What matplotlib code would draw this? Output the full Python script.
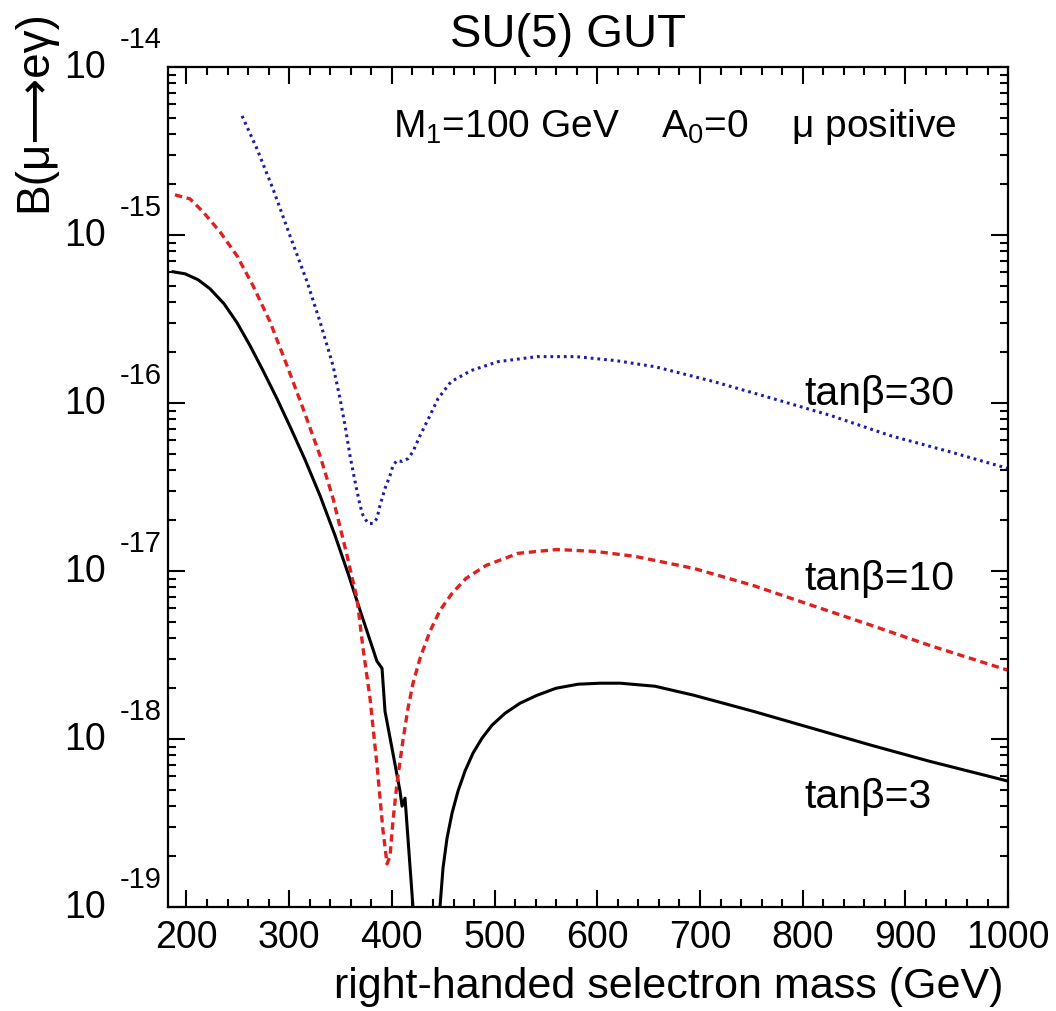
import numpy as np
import matplotlib
matplotlib.use("Agg")
import matplotlib.pyplot as plt
from matplotlib.ticker import MultipleLocator, LogLocator, NullFormatter

plt.rcParams["font.family"] = ["Liberation Sans", "DejaVu Sans"]
plt.rcParams["mathtext.fontset"] = "custom"
plt.rcParams["mathtext.rm"] = "Liberation Sans"
plt.rcParams["mathtext.it"] = "Liberation Sans"

# log10 of the branching ratio vs right-handed selectron mass (GeV)
m_tb3 = [186.9, 198.6, 211.2, 222.9, 236.5, 249.2, 261.9, 274.5, 288.1, 300.8,
         315.4, 330.0, 344.6, 357.3, 369.0, 385.5, 390.4, 393.3, 400.1, 407.9,
         409.9, 412.8, 416.7, 420.6, 424.5,
         444.0, 446.9, 449.8, 453.7, 458.6, 464.4, 471.2, 479.0, 487.8, 497.5,
         510.2, 524.8, 541.3, 559.8, 581.3, 602.7, 622.2, 656.2, 694.2, 751.7,
         809.1, 866.6, 923.1, 1000]
b_tb3 = [-15.219, -15.231, -15.266, -15.320, -15.409, -15.522, -15.659, -15.807,
         -15.974, -16.140, -16.337, -16.551, -16.788, -17.014, -17.234, -17.538,
         -17.579, -17.835, -18.055, -18.310, -18.400, -18.352, -18.679, -19.006,
         -19.303,
         -19.220, -18.994, -18.768, -18.590, -18.441, -18.310, -18.191, -18.084,
         -17.995, -17.918, -17.847, -17.787, -17.740, -17.698, -17.674, -17.668,
         -17.668, -17.686, -17.740, -17.835, -17.936, -18.037, -18.132, -18.251]

m_tb10 = [188.8, 203.4, 216.1, 232.6, 249.2, 264.8, 281.3, 297.9, 313.5, 330.0,
          342.7, 356.3, 366.0, 371.9, 378.7, 385.5, 391.4, 395.3, 398.2, 401.1,
          405.0, 410.8, 415.7, 420.6, 427.4, 437.1, 446.9, 458.6, 472.2, 491.7,
          522.8, 560.8, 598.8, 636.8, 694.2, 751.7, 809.1, 866.6, 923.1, 1000]
b_tb10 = [-14.761, -14.785, -14.862, -14.981, -15.124, -15.302, -15.516,
          -15.778, -16.033, -16.313, -16.568, -16.907, -17.163, -17.460, -17.757,
          -18.156, -18.548, -18.744, -18.697, -18.483, -18.263, -18.007, -17.817,
          -17.668, -17.520, -17.359, -17.234, -17.133, -17.044, -16.967, -16.895,
          -16.872, -16.884, -16.913, -16.985, -17.086, -17.205, -17.323, -17.442,
          -17.591]

m_tb30 = [254.1, 268.7, 284.2, 300.8, 317.4, 330.0, 342.7, 349.5, 354.4, 359.2,
          364.1, 369.0, 371.9, 376.8, 381.6, 385.5, 388.4, 393.3, 398.2, 401.1,
          405.0, 409.9, 415.7, 420.6, 427.4, 437.1, 444.9, 457.6, 477.1, 503.4,
          541.3, 579.3, 618.3, 656.2, 713.7, 771.2, 827.6, 885.1, 942.5, 1000]
b_tb30 = [-14.291, -14.488, -14.725, -15.005, -15.278, -15.516, -15.778,
          -15.974, -16.134, -16.313, -16.467, -16.610, -16.669, -16.717, -16.717,
          -16.687, -16.610, -16.509, -16.432, -16.372, -16.342, -16.348, -16.331,
          -16.289, -16.194, -16.075, -15.974, -15.873, -15.807, -15.754, -15.724,
          -15.724, -15.748, -15.784, -15.873, -15.974, -16.075, -16.194, -16.289,
          -16.390]

decades = [-19, -18, -17, -16, -15, -14]

fig = plt.figure(figsize=(10.56, 10.12), dpi=100)
ax = fig.add_axes([0.1591, 0.1028, 0.7955, 0.830])

ax.plot(m_tb3, 10.0 ** np.array(b_tb3), color="black", lw=2.2,
        solid_joinstyle="round")
ax.plot(m_tb10, 10.0 ** np.array(b_tb10), color="#e01f1f", lw=2.4,
        linestyle=(0, (2.2, 1.4)))
ax.plot(m_tb30, 10.0 ** np.array(b_tb30), color="#1c1ca8", lw=2.2,
        linestyle=(0, (0.9, 1.3)))

ax.set_yscale("log")
ax.set_xlim(182, 1000)
ax.set_ylim(1e-19, 1e-14)

ax.xaxis.set_major_locator(MultipleLocator(100))
ax.xaxis.set_minor_locator(MultipleLocator(20))
ax.yaxis.set_major_locator(LogLocator(base=10, numticks=10))
ax.yaxis.set_minor_locator(LogLocator(base=10, subs=np.arange(2, 10), numticks=10))
ax.yaxis.set_major_formatter(NullFormatter())
ax.yaxis.set_minor_formatter(NullFormatter())

ax.tick_params(which="both", direction="in", top=True, right=True, width=1.5)
ax.tick_params(which="major", length=12)
ax.tick_params(which="minor", length=6)
ax.tick_params(axis="x", labelsize=27, pad=9)
for s in ax.spines.values():
    s.set_linewidth(1.6)

# decade labels: "10" with the exponent set high on its right
for d in decades:
    ax.annotate("10", xy=(0, 10.0 ** d), xycoords=("axes fraction", "data"),
                xytext=(-45, 0), textcoords="offset points",
                ha="right", va="center", fontsize=27)
    ax.annotate(f"-{abs(d)}", xy=(0, 10.0 ** d), xycoords=("axes fraction", "data"),
                xytext=(-35, 20), textcoords="offset points",
                ha="left", va="center", fontsize=21)

ax.text(0.268, 0.918, r"M$_{1}$=100 GeV    A$_{0}$=0    μ positive",
        transform=ax.transAxes, fontsize=28, ha="left", va="baseline")
ax.text(0.758, 0.599, "tanβ=30", transform=ax.transAxes, fontsize=29.5, va="baseline")
ax.text(0.758, 0.379, "tanβ=10", transform=ax.transAxes, fontsize=29.5, va="baseline")
ax.text(0.758, 0.119, "tanβ=3", transform=ax.transAxes, fontsize=29.5, va="baseline")

fig.text(568 / 1056, 1 - 47 / 1012, "SU(5) GUT", fontsize=34, ha="center", va="baseline")
fig.text(1003 / 1056, 1 - 998 / 1012, "right-handed selectron mass (GeV)",
         fontsize=31, ha="right", va="baseline")
fig.text(34 / 1056, 1 - 10 / 1012, "B(μ⟶eγ)", fontsize=33, rotation=90,
         ha="center", va="top")

fig.savefig("out.png", dpi=100)
